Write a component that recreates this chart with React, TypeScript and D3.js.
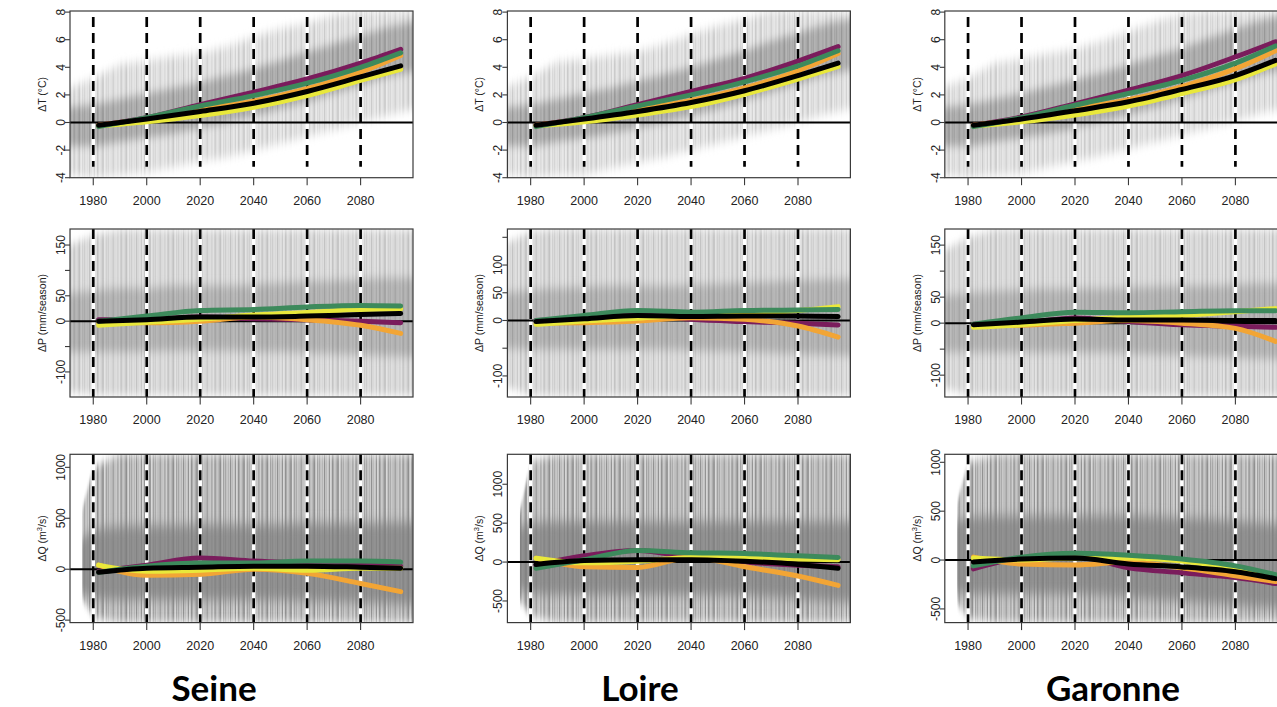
import React from 'react';
import * as d3 from 'd3';

const W = 1277;
const H = 707;

const BASINS = ['Seine', 'Loire', 'Garonne'];

const ENV_YEARS = [1971, 1980, 1990, 2000, 2010, 2020, 2030, 2040, 2050, 2060, 2070, 2080, 2090, 2100];
const Q_ENV_YEARS = [1976, 1980, 1990, 2000, 2010, 2020, 2030, 2040, 2050, 2060, 2070, 2080, 2090, 2100];
const LINE_YEARS = [1982, 2000, 2020, 2040, 2060, 2080, 2095];
const X_TICKS = [1980, 2000, 2020, 2040, 2060, 2080];

// ---------- Temperature (°C) ----------
const T_TICKS = [-4, -2, 0, 2, 4, 6, 8];
const T_LABELS = [-4, -2, 0, 2, 4, 6, 8];

const SEINE_T_OUT_HI = [2.5, 3.2, 4.2, 4.5, 4.8, 5.0, 5.5, 6.2, 6.8, 7.2, 7.8, 8.1, 8.1, 8.1];
const SEINE_T_OUT_LO = [-3.8, -4.0, -3.8, -3.6, -3.2, -2.8, -2.5, -2.0, -1.5, -1.0, -0.5, 0.0, 0.5, 1.0];
const SEINE_T_CORE_HI = [1.1, 1.3, 1.7, 2.1, 2.5, 2.9, 3.4, 3.9, 4.5, 5.1, 5.7, 6.3, 6.9, 7.3];
const SEINE_T_CORE_LO = [-1.7, -1.7, -1.4, -1.1, -0.8, -0.4, 0.0, 0.5, 1.0, 1.5, 2.1, 2.7, 3.3, 3.7];
const SEINE_T_PURPLE = [-0.2, 0.35, 1.3, 2.2, 3.15, 4.3, 5.3];
const SEINE_T_GREEN = [-0.3, 0.35, 1.2, 1.95, 2.85, 4.0, 5.05];
const SEINE_T_ORANGE = [-0.2, 0.25, 0.95, 1.55, 2.45, 3.65, 4.85];
const SEINE_T_YELLOW = [-0.25, 0.05, 0.5, 1.1, 1.95, 3.05, 3.85];
const SEINE_T_BLACK = [-0.2, 0.25, 0.8, 1.4, 2.25, 3.3, 4.1];

const LOIRE_T_OUT_HI = [2.6, 3.3, 4.4, 4.6, 4.9, 5.1, 5.7, 6.4, 7.0, 7.5, 8.1, 8.1, 8.1, 8.1];
const LOIRE_T_OUT_LO = [-3.8, -4.0, -3.8, -3.8, -3.3, -2.9, -2.5, -2.0, -1.5, -1.0, -0.5, 0.0, 0.6, 1.0];
const LOIRE_T_CORE_HI = [1.1, 1.3, 1.7, 2.1, 2.5, 3.0, 3.5, 4.0, 4.6, 5.2, 5.9, 6.5, 7.1, 7.5];
const LOIRE_T_CORE_LO = [-1.7, -1.7, -1.4, -1.1, -0.8, -0.4, 0.0, 0.5, 1.0, 1.6, 2.2, 2.8, 3.4, 3.8];
const LOIRE_T_PURPLE = [-0.2, 0.35, 1.3, 2.25, 3.2, 4.45, 5.5];
const LOIRE_T_GREEN = [-0.3, 0.35, 1.2, 2.0, 2.95, 4.1, 5.2];
const LOIRE_T_ORANGE = [-0.2, 0.25, 0.95, 1.6, 2.5, 3.75, 5.0];
const LOIRE_T_YELLOW = [-0.25, 0.05, 0.55, 1.15, 2.05, 3.15, 4.05];
const LOIRE_T_BLACK = [-0.2, 0.25, 0.8, 1.45, 2.3, 3.4, 4.3];

const GARONNE_T_OUT_HI = [2.6, 3.2, 4.3, 4.6, 5.0, 5.3, 5.9, 6.6, 7.3, 7.9, 8.1, 8.1, 8.1, 8.1];
const GARONNE_T_OUT_LO = [-3.8, -4.0, -3.8, -3.7, -3.2, -2.8, -2.4, -1.9, -1.4, -0.9, -0.4, 0.1, 0.7, 1.1];
const GARONNE_T_CORE_HI = [1.1, 1.3, 1.7, 2.1, 2.6, 3.1, 3.6, 4.2, 4.8, 5.4, 6.1, 6.8, 7.4, 7.8];
const GARONNE_T_CORE_LO = [-1.7, -1.7, -1.4, -1.1, -0.8, -0.4, 0.1, 0.6, 1.1, 1.7, 2.3, 2.9, 3.5, 3.9];
const GARONNE_T_PURPLE = [-0.2, 0.4, 1.35, 2.35, 3.4, 4.75, 5.85];
const GARONNE_T_GREEN = [-0.3, 0.35, 1.25, 2.1, 3.05, 4.3, 5.55];
const GARONNE_T_ORANGE = [-0.2, 0.25, 1.0, 1.65, 2.6, 3.9, 5.2];
const GARONNE_T_YELLOW = [-0.25, 0.05, 0.55, 1.2, 2.1, 3.1, 4.25];
const GARONNE_T_BLACK = [-0.2, 0.25, 0.85, 1.5, 2.4, 3.4, 4.5];

// ---------- Precipitation (mm/season) ----------
const P_TICKS = [-100, -50, 0, 50, 100, 150];
const SEINE_P_LABELS = [-100, 0, 50, 150];
const LOIRE_P_LABELS = [-100, 0, 50, 100];
const GARONNE_P_LABELS = [-100, 0, 50, 150];

const SEINE_P_OUT_HI = [150, 170, 180, 180, 180, 180, 180, 180, 180, 180, 180, 180, 180, 180];
const SEINE_P_OUT_LO = [-140, -145, -146, -146, -146, -146, -146, -146, -146, -146, -146, -146, -146, -146];
const SEINE_P_CORE_HI = [55, 60, 65, 65, 70, 70, 70, 72, 75, 78, 80, 82, 85, 85];
const SEINE_P_CORE_LO = [-60, -60, -60, -60, -58, -58, -58, -60, -60, -62, -64, -66, -68, -70];
const SEINE_P_PURPLE = [3, 3, 8, 5, 3, 0, -3];
const SEINE_P_GREEN = [0, 10, 21, 23, 28, 31, 30];
const SEINE_P_ORANGE = [-3, -3, 0, 8, 3, -8, -24];
const SEINE_P_YELLOW = [-8, -2, 4, 12, 17, 23, 24];
const SEINE_P_BLACK = [0, 3, 8, 8, 10, 13, 15];

const LOIRE_P_OUT_HI = [140, 160, 165, 165, 165, 165, 165, 165, 165, 165, 165, 165, 165, 165];
const LOIRE_P_OUT_LO = [-120, -135, -136, -136, -136, -136, -136, -136, -136, -136, -136, -136, -136, -136];
const LOIRE_P_CORE_HI = [50, 55, 58, 60, 62, 62, 62, 64, 66, 68, 70, 72, 74, 75];
const LOIRE_P_CORE_LO = [-50, -52, -52, -52, -52, -52, -52, -54, -55, -56, -58, -60, -62, -64];
const LOIRE_P_PURPLE = [0, 3, 10, 2, -2, -5, -8];
const LOIRE_P_GREEN = [0, 9, 18, 15, 18, 19, 20];
const LOIRE_P_ORANGE = [-5, -4, -1, 5, 2, -10, -30];
const LOIRE_P_YELLOW = [-7, -1, 4, 10, 13, 18, 25];
const LOIRE_P_BLACK = [-2, 3, 9, 7, 8, 8, 7];

const GARONNE_P_OUT_HI = [140, 165, 180, 180, 180, 180, 180, 180, 180, 180, 180, 180, 180, 180];
const GARONNE_P_OUT_LO = [-125, -138, -140, -140, -140, -140, -140, -140, -140, -140, -140, -140, -140, -140];
const GARONNE_P_CORE_HI = [52, 58, 62, 64, 66, 66, 66, 68, 70, 72, 72, 74, 76, 76];
const GARONNE_P_CORE_LO = [-55, -56, -56, -56, -56, -56, -56, -58, -60, -62, -64, -66, -68, -70];
const GARONNE_P_PURPLE = [-2, 0, 10, 3, -3, -6, -8];
const GARONNE_P_GREEN = [-2, 10, 21, 20, 22, 24, 24];
const GARONNE_P_ORANGE = [-5, -4, 0, 5, 0, -10, -35];
const GARONNE_P_YELLOW = [-8, -3, 5, 12, 15, 22, 28];
const GARONNE_P_BLACK = [-3, 2, 8, 6, 6, 5, 5];

// ---------- Discharge (m3/s) ----------
const Q_TICKS = [-500, 0, 500, 1000];
const Q_LABELS = [-500, 0, 500, 1000];

const SEINE_Q_OUT_HI = [600, 1000, 1130, 1130, 1130, 1130, 1130, 1130, 1130, 1130, 1130, 1130, 1130, 1130];
const SEINE_Q_OUT_LO = [-300, -480, -524, -524, -524, -524, -524, -524, -524, -524, -524, -524, -524, -524];
const SEINE_Q_CORE_HI = [300, 380, 420, 430, 430, 440, 440, 440, 440, 450, 450, 450, 460, 460];
const SEINE_Q_CORE_LO = [-230, -280, -300, -300, -300, -300, -300, -300, -300, -310, -320, -330, -340, -350];
const SEINE_Q_PURPLE = [-20, 40, 110, 80, 60, 40, 30];
const SEINE_Q_GREEN = [-30, 30, 60, 60, 80, 80, 70];
const SEINE_Q_ORANGE = [40, -60, -50, 0, -40, -140, -220];
const SEINE_Q_YELLOW = [40, -20, -10, 10, -10, 10, 10];
const SEINE_Q_BLACK = [-30, 10, 20, 30, 30, 20, 10];

const LOIRE_Q_OUT_HI = [650, 1300, 1385, 1385, 1385, 1385, 1385, 1385, 1385, 1385, 1385, 1385, 1385, 1385];
const LOIRE_Q_OUT_LO = [-500, -700, -778, -778, -778, -778, -778, -778, -778, -778, -778, -778, -778, -778];
const LOIRE_Q_CORE_HI = [450, 500, 520, 520, 520, 520, 520, 520, 520, 520, 520, 520, 520, 520];
const LOIRE_Q_CORE_LO = [-350, -400, -420, -420, -420, -420, -420, -420, -420, -430, -450, -470, -500, -520];
const LOIRE_Q_PURPLE = [-40, 80, 150, 60, 0, -40, -60];
const LOIRE_Q_GREEN = [-80, 30, 150, 120, 110, 80, 60];
const LOIRE_Q_ORANGE = [50, -60, -70, 60, -60, -180, -300];
const LOIRE_Q_YELLOW = [50, -10, 10, 60, 60, 40, 30];
const LOIRE_Q_BLACK = [-30, 20, 30, 30, 10, -30, -80];

const GARONNE_Q_OUT_HI = [600, 1000, 1082, 1082, 1082, 1082, 1082, 1082, 1082, 1082, 1082, 1082, 1082, 1082];
const GARONNE_Q_OUT_LO = [-450, -600, -640, -640, -640, -640, -640, -640, -640, -640, -640, -640, -640, -640];
const GARONNE_Q_CORE_HI = [400, 430, 450, 450, 450, 450, 450, 450, 440, 430, 420, 400, 380, 360];
const GARONNE_Q_CORE_LO = [-330, -350, -350, -350, -350, -350, -360, -380, -400, -420, -440, -460, -480, -500];
const GARONNE_Q_PURPLE = [-90, 20, 40, -80, -130, -180, -240];
const GARONNE_Q_GREEN = [-60, 30, 70, 50, 10, -60, -150];
const GARONNE_Q_ORANGE = [30, -40, -50, -20, -80, -160, -220];
const GARONNE_Q_YELLOW = [20, 0, 20, 20, -10, -90, -160];
const GARONNE_Q_BLACK = [-20, 10, 20, -40, -70, -120, -190];

const SERIES_ORDER = ['purple', 'orange', 'yellow', 'green', 'black'];
const SERIES_COLORS: Record<string, string> = {
  purple: '#7a1c5c',
  orange: '#f2a535',
  yellow: '#e9e83b',
  green: '#3d8a5c',
  black: '#000000',
};

// ---------- layout & style ----------
const COL_LEFT = [70, 507.4, 944.8];
const BOX_W = 343;
const X_DOMAIN: [number, number] = [1971.3, 2099.6];
const ROW_BOX: [number, number][] = [[11, 177.7], [229, 397], [454.3, 622.6]];
const TITLE_X = [214, 640, 1113];

// stripe layout of the texture used to render the ensemble spread (style only)
const STRIPES: [number, number, number][] = [
  [0, 1.2, 0], [1.8, 0.8, 1], [3.0, 1.6, 2], [5.2, 0.7, 1], [6.4, 1.1, 0],
  [8.0, 1.8, 2], [10.4, 0.8, 1], [11.7, 1.3, 0], [13.6, 0.9, 2], [15.0, 1.4, 1],
  [17.0, 0.8, 0], [18.4, 1.6, 2], [20.6, 1.0, 1], [22.2, 0.8, 0],
];
const STRIPE_W = 23.5;

const ROW_STYLE = [
  { outerBg: '#f5f5f5', outer: ['#d2d2d2', '#e0e0e0', '#c8c8c8'], coreBg: '#bdbdbd', core: ['#a0a0a0', '#afafaf', '#959595'], blurOut: 5, blurCore: 4 },
  { outerBg: '#eeeeee', outer: ['#cacaca', '#d9d9d9', '#c0c0c0'], coreBg: '#c2c2c2', core: ['#a8a8a8', '#b4b4b4', '#9e9e9e'], blurOut: 4, blurCore: 5 },
  { outerBg: '#f2f2f2', outer: ['#929292', '#b8b8b8', '#8a8a8a'], coreBg: '#9a9a9a', core: ['#858585', '#8f8f8f', '#808080'], blurOut: 5, blurCore: 6 },
];

type Env = { years: number[]; outHi: number[]; outLo: number[]; coreHi: number[]; coreLo: number[] };
type Panel = {
  col: number;
  row: number;
  domain: [number, number];
  ticks: number[];
  labels: number[];
  dash: [number, number] | null;
  env: Env;
  lines: Record<string, number[]>;
};

const panels: Panel[] = [
  {
    col: 0, row: 0, domain: [-4.0, 8.08], ticks: T_TICKS, labels: T_LABELS, dash: [-3.2, 7.65],
    env: { years: ENV_YEARS, outHi: SEINE_T_OUT_HI, outLo: SEINE_T_OUT_LO, coreHi: SEINE_T_CORE_HI, coreLo: SEINE_T_CORE_LO },
    lines: { purple: SEINE_T_PURPLE, green: SEINE_T_GREEN, orange: SEINE_T_ORANGE, yellow: SEINE_T_YELLOW, black: SEINE_T_BLACK },
  },
  {
    col: 1, row: 0, domain: [-4.0, 8.08], ticks: T_TICKS, labels: T_LABELS, dash: [-3.2, 7.65],
    env: { years: ENV_YEARS, outHi: LOIRE_T_OUT_HI, outLo: LOIRE_T_OUT_LO, coreHi: LOIRE_T_CORE_HI, coreLo: LOIRE_T_CORE_LO },
    lines: { purple: LOIRE_T_PURPLE, green: LOIRE_T_GREEN, orange: LOIRE_T_ORANGE, yellow: LOIRE_T_YELLOW, black: LOIRE_T_BLACK },
  },
  {
    col: 2, row: 0, domain: [-4.0, 8.08], ticks: T_TICKS, labels: T_LABELS, dash: [-3.2, 7.65],
    env: { years: ENV_YEARS, outHi: GARONNE_T_OUT_HI, outLo: GARONNE_T_OUT_LO, coreHi: GARONNE_T_CORE_HI, coreLo: GARONNE_T_CORE_LO },
    lines: { purple: GARONNE_T_PURPLE, green: GARONNE_T_GREEN, orange: GARONNE_T_ORANGE, yellow: GARONNE_T_YELLOW, black: GARONNE_T_BLACK },
  },
  {
    col: 0, row: 1, domain: [-149.4, 181.6], ticks: P_TICKS, labels: SEINE_P_LABELS, dash: null,
    env: { years: ENV_YEARS, outHi: SEINE_P_OUT_HI, outLo: SEINE_P_OUT_LO, coreHi: SEINE_P_CORE_HI, coreLo: SEINE_P_CORE_LO },
    lines: { purple: SEINE_P_PURPLE, green: SEINE_P_GREEN, orange: SEINE_P_ORANGE, yellow: SEINE_P_YELLOW, black: SEINE_P_BLACK },
  },
  {
    col: 1, row: 1, domain: [-138, 165], ticks: P_TICKS, labels: LOIRE_P_LABELS, dash: null,
    env: { years: ENV_YEARS, outHi: LOIRE_P_OUT_HI, outLo: LOIRE_P_OUT_LO, coreHi: LOIRE_P_CORE_HI, coreLo: LOIRE_P_CORE_LO },
    lines: { purple: LOIRE_P_PURPLE, green: LOIRE_P_GREEN, orange: LOIRE_P_ORANGE, yellow: LOIRE_P_YELLOW, black: LOIRE_P_BLACK },
  },
  {
    col: 2, row: 1, domain: [-142, 181], ticks: P_TICKS, labels: GARONNE_P_LABELS, dash: null,
    env: { years: ENV_YEARS, outHi: GARONNE_P_OUT_HI, outLo: GARONNE_P_OUT_LO, coreHi: GARONNE_P_CORE_HI, coreLo: GARONNE_P_CORE_LO },
    lines: { purple: GARONNE_P_PURPLE, green: GARONNE_P_GREEN, orange: GARONNE_P_ORANGE, yellow: GARONNE_P_YELLOW, black: GARONNE_P_BLACK },
  },
  {
    col: 0, row: 2, domain: [-524, 1128], ticks: Q_TICKS, labels: Q_LABELS, dash: null,
    env: { years: Q_ENV_YEARS, outHi: SEINE_Q_OUT_HI, outLo: SEINE_Q_OUT_LO, coreHi: SEINE_Q_CORE_HI, coreLo: SEINE_Q_CORE_LO },
    lines: { purple: SEINE_Q_PURPLE, green: SEINE_Q_GREEN, orange: SEINE_Q_ORANGE, yellow: SEINE_Q_YELLOW, black: SEINE_Q_BLACK },
  },
  {
    col: 1, row: 2, domain: [-778, 1385], ticks: Q_TICKS, labels: Q_LABELS, dash: null,
    env: { years: Q_ENV_YEARS, outHi: LOIRE_Q_OUT_HI, outLo: LOIRE_Q_OUT_LO, coreHi: LOIRE_Q_CORE_HI, coreLo: LOIRE_Q_CORE_LO },
    lines: { purple: LOIRE_Q_PURPLE, green: LOIRE_Q_GREEN, orange: LOIRE_Q_ORANGE, yellow: LOIRE_Q_YELLOW, black: LOIRE_Q_BLACK },
  },
  {
    col: 2, row: 2, domain: [-640, 1082], ticks: Q_TICKS, labels: Q_LABELS, dash: null,
    env: { years: Q_ENV_YEARS, outHi: GARONNE_Q_OUT_HI, outLo: GARONNE_Q_OUT_LO, coreHi: GARONNE_Q_CORE_HI, coreLo: GARONNE_Q_CORE_LO },
    lines: { purple: GARONNE_Q_PURPLE, green: GARONNE_Q_GREEN, orange: GARONNE_Q_ORANGE, yellow: GARONNE_Q_YELLOW, black: GARONNE_Q_BLACK },
  },
];

const FONT = "'Liberation Sans', Arial, Helvetica, sans-serif";

function StripePattern({ id, bg, tones }: { id: string; bg: string; tones: string[] }) {
  return (
    <pattern id={id} x={0} y={0} width={STRIPE_W} height={20} patternUnits="userSpaceOnUse">
      <rect x={0} y={0} width={STRIPE_W} height={20} fill={bg} />
      {STRIPES.map(([sx, sw, t], i) => (
        <rect key={i} x={sx} y={0} width={sw} height={20} fill={tones[t]} />
      ))}
    </pattern>
  );
}

function YTitle({ row, x, y }: { row: number; x: number; y: number }) {
  const common = { transform: `translate(${x},${y}) rotate(-90)`, textAnchor: 'middle' as const, fontSize: 10.5, fill: '#222' };
  if (row === 0) return <text {...common}>ΔT (°C)</text>;
  if (row === 1) return <text {...common}>ΔP (mm/season)</text>;
  return (
    <text {...common}>
      ΔQ (m<tspan fontSize={7.5} dy={-4}>3</tspan>
      <tspan dy={4}>/s)</tspan>
    </text>
  );
}

function PanelView({ p }: { p: Panel }) {
  const left = COL_LEFT[p.col];
  const right = left + BOX_W;
  const [top, bottom] = ROW_BOX[p.row];
  const x = d3.scaleLinear().domain(X_DOMAIN).range([left, right]);
  const y = d3.scaleLinear().domain(p.domain).range([bottom, top]);
  const clipId = `clip-${p.row}-${p.col}`;

  const idx = p.env.years.map((_, i) => i);
  const outerArea = d3
    .area<number>()
    .x((i) => x(p.env.years[i]))
    .y0((i) => y(p.env.outLo[i]))
    .y1((i) => y(p.env.outHi[i]));
  const coreArea = d3
    .area<number>()
    .x((i) => x(p.env.years[i]))
    .y0((i) => y(p.env.coreLo[i]))
    .y1((i) => y(p.env.coreHi[i]))
    .curve(d3.curveMonotoneX);

  const lineGen = (vals: number[]) =>
    d3
      .line<number>()
      .x((_, i) => x(LINE_YEARS[i]))
      .y((v) => y(v))
      .curve(d3.curveMonotoneX)(vals) || '';

  const dashTop = p.dash ? y(p.dash[1]) : top;
  const dashBottom = p.dash ? y(p.dash[0]) : bottom;

  return (
    <g>
      <defs>
        <clipPath id={clipId}>
          <rect x={left} y={top} width={BOX_W} height={bottom - top} />
        </clipPath>
      </defs>
      <g clipPath={`url(#${clipId})`}>
        <path d={outerArea(idx) || ''} fill={`url(#outer-${p.row})`} filter={`url(#vblurO-${p.row})`} />
        <path d={coreArea(idx) || ''} fill={`url(#core-${p.row})`} filter={`url(#vblurC-${p.row})`} />
        {X_TICKS.map((yr) => (
          <g key={yr}>
            <line x1={x(yr)} x2={x(yr)} y1={dashTop} y2={dashBottom} stroke="#ffffff" strokeWidth={3.5} />
            <line x1={x(yr)} x2={x(yr)} y1={dashTop} y2={dashBottom} stroke="#000" strokeWidth={2.7} strokeDasharray="10 6" />
          </g>
        ))}
        <line x1={left} x2={right} y1={y(0)} y2={y(0)} stroke="#000" strokeWidth={2} />
        {SERIES_ORDER.map((k) => (
          <path
            key={k}
            d={lineGen(p.lines[k])}
            fill="none"
            stroke={SERIES_COLORS[k]}
            strokeWidth={5}
            strokeLinecap="round"
            strokeLinejoin="round"
          />
        ))}
      </g>
      <rect x={left} y={top} width={BOX_W} height={bottom - top} fill="none" stroke="#3a3a3a" strokeWidth={1.2} />
      {p.ticks.map((t) => (
        <line key={`yt${t}`} x1={left - 5} x2={left} y1={y(t)} y2={y(t)} stroke="#3a3a3a" strokeWidth={1.1} />
      ))}
      {p.labels.map((t) => (
        <text
          key={`yl${t}`}
          transform={`translate(${left - 5},${y(t)}) rotate(-90)`}
          textAnchor="middle"
          fontSize={12}
          fill="#222"
        >
          {t}
        </text>
      ))}
      {X_TICKS.map((t) => (
        <g key={`xt${t}`}>
          <line x1={x(t)} x2={x(t)} y1={bottom} y2={bottom + 7.5} stroke="#3a3a3a" strokeWidth={1.1} />
          <text x={x(t)} y={bottom + 27} textAnchor="middle" fontSize={12.5} fill="#222">
            {t}
          </text>
        </g>
      ))}
      <YTitle row={p.row} x={left - 24} y={(top + bottom) / 2} />
    </g>
  );
}

export default function App() {
  return (
    <svg
      width={W}
      height={H}
      viewBox={`0 0 ${W} ${H}`}
      style={{ position: 'absolute', left: 0, top: 0, background: '#ffffff' }}
      fontFamily={FONT}
    >
      <defs>
        {ROW_STYLE.map((s, r) => (
          <g key={r}>
            <StripePattern id={`outer-${r}`} bg={s.outerBg} tones={s.outer} />
            <StripePattern id={`core-${r}`} bg={s.coreBg} tones={s.core} />
            <filter id={`vblurO-${r}`} x="0" y="-0.3" width="1" height="1.6">
              <feGaussianBlur stdDeviation={`0 ${s.blurOut}`} />
            </filter>
            <filter id={`vblurC-${r}`} x="0" y="-0.3" width="1" height="1.6">
              <feGaussianBlur stdDeviation={`0 ${s.blurCore}`} />
            </filter>
          </g>
        ))}
      </defs>
      <rect x={0} y={0} width={W} height={H} fill="#ffffff" />
      {panels.map((p) => (
        <PanelView key={`${p.row}-${p.col}`} p={p} />
      ))}
      {BASINS.map((b, i) => (
        <text
          key={b}
          x={TITLE_X[i]}
          y={701}
          textAnchor="middle"
          fontFamily="Lato, 'Open Sans', sans-serif"
          fontWeight={700}
          fontSize={35}
          fill="#000"
        >
          {b}
        </text>
      ))}
    </svg>
  );
}
